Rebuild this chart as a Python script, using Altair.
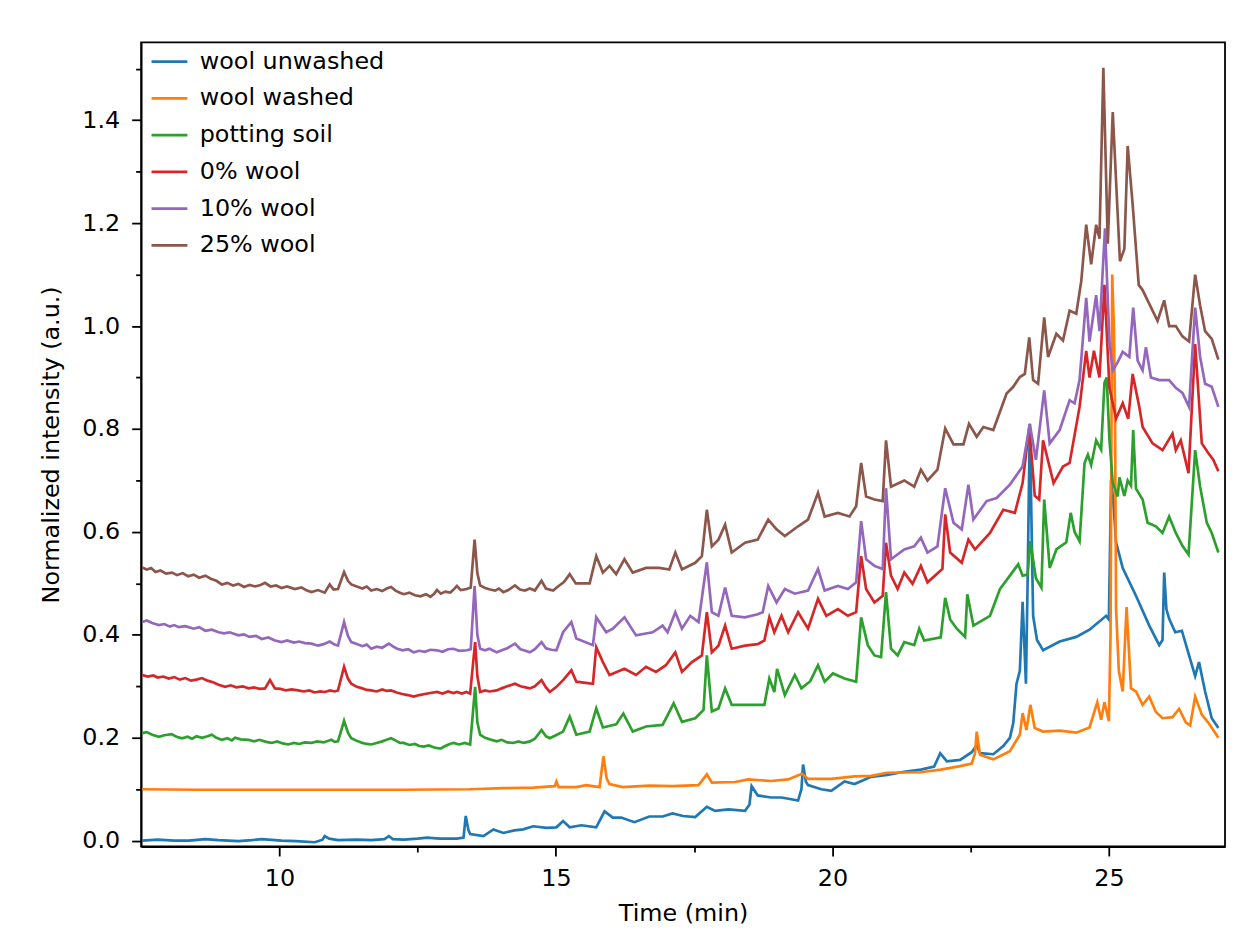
import altair as alt
import pandas as pd

series_names = ["wool unwashed", "wool washed", "potting soil", "0% wool", "10% wool", "25% wool"]
series_colors = ["#1f77b4", "#ff7f0e", "#2ca02c", "#d62728", "#9467bd", "#8c564b"]

x_tick_values = [10, 12.5, 15, 17.5, 20, 22.5, 25]
y_tick_values = [0.0, 0.1, 0.2, 0.3, 0.4, 0.5, 0.6, 0.7, 0.8, 0.9, 1.0, 1.1, 1.2, 1.3, 1.4, 1.5]

unwashed_t = [7.52, 7.8, 8.1, 8.36, 8.66, 8.9, 9.26, 9.5, 9.68, 10.04, 10.3, 10.64, 10.78, 10.82, 10.9,
              11.06, 11.4, 11.66, 11.9, 11.98, 12.05, 12.25, 12.5, 12.67, 12.9, 13.21, 13.33, 13.37, 13.42,
              13.45, 13.69, 13.87, 14.05, 14.25, 14.41, 14.59, 14.83, 15.01, 15.13, 15.25, 15.46, 15.73,
              15.88, 16.03, 16.18, 16.42, 16.69, 16.93, 17.11, 17.3, 17.52, 17.73, 17.88, 18.12, 18.42,
              18.5, 18.54, 18.65, 18.89, 19.08, 19.38, 19.44, 19.47, 19.52, 19.56, 19.8, 19.98, 20.22,
              20.4, 20.7, 20.99, 21.3, 21.6, 21.84, 21.95, 22.07, 22.31, 22.52, 22.61, 22.67, 22.91,
              23.09, 23.21, 23.27, 23.33, 23.39, 23.44, 23.5, 23.53, 23.57, 23.63, 23.7, 23.81, 24.11,
              24.41, 24.65, 24.95, 25.0, 25.04, 25.08, 25.13, 25.25, 25.49, 25.73, 25.91, 25.97, 26.0,
              26.04, 26.09, 26.2, 26.32, 26.45, 26.56, 26.63, 26.74, 26.86, 26.98]
unwashed_i = [0.0, 0.002, 0.0, 0.0, 0.003, 0.001, -0.001, 0.001, 0.003, 0.0, -0.001, -0.003, 0.002, 0.009, 0.004,
              0.001, 0.002, 0.001, 0.003, 0.009, 0.003, 0.002, 0.004, 0.006, 0.004, 0.004, 0.006, 0.048, 0.02,
              0.013, 0.009, 0.022, 0.015, 0.02, 0.022, 0.028, 0.025, 0.026, 0.038, 0.026, 0.03, 0.026,
              0.057, 0.045, 0.045, 0.036, 0.047, 0.047, 0.053, 0.048, 0.046, 0.066, 0.058, 0.061, 0.058,
              0.07, 0.106, 0.088, 0.084, 0.084, 0.078, 0.1, 0.148, 0.115, 0.108, 0.1, 0.097, 0.115,
              0.11, 0.124, 0.128, 0.134, 0.138, 0.144, 0.17, 0.154, 0.157, 0.172, 0.186, 0.17, 0.168,
              0.184, 0.2, 0.228, 0.305, 0.33, 0.464, 0.305, 0.5, 0.81, 0.437, 0.39, 0.37, 0.387,
              0.396, 0.41, 0.437, 0.43, 0.7, 0.66, 0.58, 0.53, 0.476, 0.418, 0.38, 0.39, 0.521,
              0.45, 0.431, 0.405, 0.408, 0.36, 0.32, 0.347, 0.29, 0.238, 0.219]

washed_t = [7.52, 8.5, 9.86, 11.0, 12.25, 13.45, 14.05, 14.6, 14.98, 15.01, 15.05, 15.37, 15.55, 15.79,
            15.86, 15.92, 15.97, 16.21, 16.69, 17.11, 17.58, 17.73, 17.82, 18.24, 18.48, 18.89, 19.2,
            19.45, 19.56, 19.98, 20.4, 20.7, 20.99, 21.6, 21.96, 22.31, 22.52, 22.58, 22.61, 22.67,
            22.91, 23.21, 23.39, 23.44, 23.51, 23.58, 23.66, 23.81, 24.11, 24.41, 24.65, 24.79, 24.86,
            24.92, 25.0, 25.03, 25.06, 25.09, 25.11, 25.13, 25.18, 25.25, 25.32, 25.4, 25.49, 25.61,
            25.73, 25.85, 25.97, 26.15, 26.27, 26.39, 26.47, 26.56, 26.68, 26.8, 26.98]
washed_i = [0.100, 0.099, 0.099, 0.099, 0.099, 0.100, 0.102, 0.103, 0.106, 0.115, 0.104, 0.104, 0.108, 0.104,
            0.164, 0.12, 0.11, 0.104, 0.107, 0.106, 0.108, 0.129, 0.113, 0.114, 0.119, 0.116, 0.119,
            0.13, 0.12, 0.12, 0.125, 0.126, 0.132, 0.133, 0.138, 0.145, 0.15, 0.17, 0.212, 0.167,
            0.158, 0.174, 0.206, 0.248, 0.215, 0.264, 0.219, 0.212, 0.214, 0.21, 0.22, 0.269, 0.235,
            0.269, 0.232, 0.4, 1.10, 1.0, 0.85, 0.45, 0.33, 0.29, 0.454, 0.296, 0.29, 0.264,
            0.28, 0.25, 0.238, 0.24, 0.256, 0.23, 0.224, 0.28, 0.245, 0.229, 0.2]

soil_t = [7.52, 7.6, 7.7, 7.82, 7.92, 8.05, 8.14, 8.24, 8.34, 8.42, 8.5, 8.6, 8.7, 8.78, 8.86, 8.96, 9.06,
          9.14, 9.2, 9.3, 9.44, 9.54, 9.64, 9.76, 9.86, 9.96, 10.06, 10.16, 10.26, 10.36, 10.46, 10.58, 10.68,
          10.8, 10.94, 11.0, 11.06, 11.17, 11.24, 11.3, 11.4, 11.5, 11.58, 11.66, 11.76, 11.86, 11.94, 12.02,
          12.1, 12.18, 12.25, 12.35, 12.45, 12.53, 12.61, 12.7, 12.8, 12.91, 13.0, 13.08, 13.15, 13.25, 13.35,
          13.45, 13.54, 13.58, 13.63, 13.72, 13.8, 13.93, 14.02, 14.12, 14.23, 14.32, 14.42, 14.53, 14.62,
          14.74, 14.82, 14.89, 15.0, 15.13,
          15.25, 15.37, 15.61, 15.73, 15.85, 16.09, 16.22, 16.39, 16.63, 16.93, 17.13, 17.28, 17.52,
          17.67, 17.73, 17.82, 17.94, 18.06, 18.18, 18.42, 18.77, 18.86, 18.95, 19.0, 19.14, 19.32, 19.44,
          19.6, 19.74, 19.86, 20.01, 20.22, 20.43, 20.52, 20.64, 20.76, 20.88, 20.97, 21.06, 21.18, 21.3,
          21.48, 21.57, 21.66, 21.96, 22.04, 22.13, 22.25, 22.4, 22.44, 22.55, 22.85, 23.03, 23.21, 23.36,
          23.44, 23.53, 23.58, 23.68, 23.78, 23.83, 23.93, 24.05, 24.23, 24.31, 24.38, 24.47, 24.56, 24.62,
          24.68, 24.77, 24.86, 24.92, 24.96, 25.01, 25.07, 25.16, 25.19, 25.28, 25.34, 25.4, 25.44, 25.49,
          25.61, 25.7, 25.85, 25.97, 26.09, 26.21, 26.33, 26.44, 26.56, 26.65, 26.77, 26.86, 26.98]
soil_i = [0.209, 0.211, 0.206, 0.202, 0.205, 0.207, 0.202, 0.199, 0.202, 0.198, 0.203, 0.2, 0.203, 0.206, 0.2, 0.196, 0.199,
          0.195, 0.2, 0.197, 0.196, 0.193, 0.196, 0.192, 0.19, 0.193, 0.189, 0.187, 0.19, 0.188, 0.191, 0.19, 0.193,
          0.191, 0.196, 0.192, 0.193, 0.233, 0.21, 0.199, 0.194, 0.19, 0.188, 0.187, 0.19, 0.193, 0.196, 0.199,
          0.195, 0.19, 0.19, 0.186, 0.188, 0.184, 0.183, 0.185, 0.181, 0.179, 0.184, 0.188, 0.19, 0.187, 0.19,
          0.187, 0.299, 0.23, 0.206, 0.2, 0.197, 0.193, 0.196, 0.191, 0.19, 0.193, 0.19, 0.193, 0.198,
          0.215, 0.203, 0.199, 0.205, 0.212,
          0.241, 0.206, 0.212, 0.257, 0.22, 0.226, 0.247, 0.212, 0.222, 0.225, 0.267, 0.231, 0.238,
          0.254, 0.36, 0.251, 0.257, 0.296, 0.264, 0.264, 0.264, 0.315, 0.289, 0.334, 0.283, 0.322, 0.296,
          0.31, 0.341, 0.309, 0.325, 0.315, 0.309, 0.434, 0.38, 0.36, 0.357, 0.483, 0.373, 0.36, 0.386,
          0.38, 0.412, 0.389, 0.395, 0.472, 0.43, 0.412, 0.396, 0.479, 0.418, 0.437, 0.489, 0.515, 0.537,
          0.515, 0.517, 0.582, 0.51, 0.492, 0.663, 0.53, 0.566, 0.58, 0.637, 0.6, 0.582, 0.734, 0.75,
          0.73, 0.778, 0.76, 0.89, 0.9, 0.78, 0.695, 0.669, 0.706, 0.67, 0.7, 0.69, 0.798, 0.684,
          0.663, 0.618, 0.611, 0.598, 0.63, 0.598, 0.573, 0.556, 0.759, 0.688, 0.618, 0.598, 0.56]

wool0_t = [7.52, 7.62, 7.72, 7.8, 7.9, 8.0, 8.1, 8.2, 8.3, 8.4, 8.5, 8.6, 8.7, 8.8, 8.9, 9.02, 9.12, 9.22,
           9.34, 9.44, 9.54, 9.64, 9.74, 9.83, 9.92, 10.02, 10.12, 10.22, 10.34, 10.44, 10.54, 10.64, 10.74,
           10.82, 10.92, 11.0, 11.06, 11.17, 11.24, 11.3, 11.4, 11.5, 11.58, 11.66, 11.76, 11.86, 11.94, 12.02,
           12.12, 12.22, 12.32, 12.43, 12.53, 12.63, 12.73, 12.85, 12.95, 13.05, 13.15, 13.21, 13.3, 13.38,
           13.45, 13.54, 13.58, 13.63, 13.72, 13.8, 13.93, 14.02, 14.12, 14.26, 14.36, 14.45, 14.53, 14.62,
           14.74, 14.82, 14.89, 15.0, 15.13, 15.28,
           15.37, 15.67, 15.73, 15.85, 15.97, 16.24, 16.45, 16.63, 16.81, 16.99, 17.16, 17.28, 17.46, 17.64,
           17.73, 17.82, 17.94, 18.06, 18.18, 18.42, 18.65, 18.77, 18.86, 18.95, 19.08, 19.2, 19.38, 19.56,
           19.74, 19.89, 20.1, 20.28, 20.43, 20.52, 20.61, 20.76, 20.91, 20.97, 21.06, 21.18, 21.3, 21.45,
           21.6, 21.72, 21.99, 22.04, 22.13, 22.34, 22.46, 22.58, 22.85, 23.09, 23.3, 23.44, 23.56, 23.66,
           23.74, 23.81, 24.0, 24.17, 24.29, 24.47, 24.59, 24.65, 24.73, 24.83, 24.92, 25.01, 25.13, 25.25,
           25.35, 25.43, 25.55, 25.61, 25.79, 25.97, 26.15, 26.21, 26.3, 26.44, 26.56, 26.68, 26.8, 26.89,
           26.98]
wool0_i = [0.322, 0.319, 0.321, 0.317, 0.319, 0.315, 0.318, 0.313, 0.316, 0.311, 0.313, 0.316, 0.311, 0.308, 0.303, 0.299, 0.302, 0.298,
           0.3, 0.296, 0.298, 0.295, 0.296, 0.312, 0.296, 0.295, 0.292, 0.294, 0.292, 0.29, 0.292, 0.288, 0.29,
           0.289, 0.292, 0.29, 0.292, 0.338, 0.315, 0.305, 0.299, 0.296, 0.293, 0.292, 0.29, 0.294, 0.291, 0.292,
           0.288, 0.285, 0.283, 0.28, 0.283, 0.285, 0.287, 0.289, 0.286, 0.29, 0.287, 0.289, 0.286, 0.289,
           0.286, 0.386, 0.32, 0.289, 0.292, 0.29, 0.292, 0.296, 0.3, 0.305, 0.3, 0.298, 0.296, 0.3,
           0.312, 0.298, 0.289, 0.298, 0.312, 0.331,
           0.309, 0.305, 0.376, 0.347, 0.322, 0.334, 0.322, 0.338, 0.328, 0.341, 0.366, 0.328, 0.347, 0.36,
           0.444, 0.366, 0.379, 0.418, 0.373, 0.379, 0.382, 0.389, 0.434, 0.405, 0.437, 0.405, 0.444, 0.412,
           0.47, 0.437, 0.45, 0.437, 0.444, 0.553, 0.489, 0.463, 0.476, 0.579, 0.515, 0.489, 0.521, 0.499,
           0.534, 0.502, 0.528, 0.634, 0.56, 0.54, 0.585, 0.566, 0.598, 0.643, 0.637, 0.695, 0.804, 0.67,
           0.663, 0.778, 0.695, 0.727, 0.734, 0.843, 0.952, 0.9, 0.952, 0.9, 1.08, 0.88, 0.82, 0.85,
           0.82, 0.907, 0.843, 0.804, 0.772, 0.759, 0.791, 0.759, 0.778, 0.714, 0.965, 0.772, 0.753, 0.74,
           0.718]

wool10_t = [7.52, 7.6, 7.7, 7.82, 7.92, 8.02, 8.1, 8.18, 8.3, 8.45, 8.55, 8.66, 8.78, 8.9, 9.0, 9.1, 9.26,
            9.36, 9.46, 9.58, 9.68, 9.8, 9.92, 10.04, 10.14, 10.26, 10.36, 10.46, 10.58, 10.7, 10.8, 10.91,
            11.0, 11.06, 11.17, 11.24, 11.3, 11.4, 11.5, 11.58, 11.66, 11.76, 11.86, 11.98, 12.06, 12.13,
            12.23, 12.33, 12.43, 12.53, 12.63, 12.73, 12.85, 12.95, 13.05, 13.15, 13.25, 13.39, 13.46, 13.53,
            13.58, 13.63, 13.72, 13.8, 13.93, 14.02, 14.12, 14.26, 14.36, 14.45, 14.53, 14.62, 14.74, 14.82,
            14.92, 15.01, 15.13,
            15.28, 15.37, 15.67, 15.73, 15.91, 16.03, 16.24, 16.45, 16.75, 16.93, 17.02, 17.16, 17.28, 17.43,
            17.58, 17.73, 17.82, 17.94, 18.06, 18.18, 18.42, 18.65, 18.74, 18.84, 18.99, 19.14, 19.32, 19.56,
            19.74, 19.86, 20.1, 20.28, 20.43, 20.52, 20.61, 20.76, 20.91, 20.97, 21.06, 21.3, 21.48, 21.6,
            21.72, 21.9, 22.04, 22.19, 22.34, 22.46, 22.55, 22.79, 22.97, 23.21, 23.44, 23.57, 23.68, 23.83,
            23.93, 24.11, 24.29, 24.38, 24.47, 24.59, 24.65, 24.77, 24.83, 24.93, 25.01, 25.07, 25.16, 25.25,
            25.37, 25.44, 25.52, 25.61, 25.67, 25.76, 25.91, 26.09, 26.21, 26.33, 26.45, 26.56, 26.65, 26.74,
            26.86, 26.98]
wool10_i = [0.425, 0.428, 0.423, 0.419, 0.421, 0.416, 0.419, 0.415, 0.417, 0.412, 0.415, 0.408, 0.41, 0.405, 0.403, 0.405, 0.399,
            0.401, 0.396, 0.398, 0.392, 0.395, 0.389, 0.386, 0.389, 0.385, 0.387, 0.384, 0.383, 0.379, 0.382, 0.387,
            0.381, 0.379, 0.425, 0.398, 0.386, 0.382, 0.378, 0.381, 0.373, 0.377, 0.375, 0.383, 0.377, 0.373,
            0.37, 0.372, 0.366, 0.369, 0.367, 0.371, 0.37, 0.367, 0.372, 0.373, 0.369, 0.37, 0.372, 0.495,
            0.4, 0.373, 0.37, 0.373, 0.366, 0.37, 0.374, 0.383, 0.372, 0.369, 0.366, 0.372, 0.386, 0.374,
            0.371, 0.37, 0.405,
            0.425, 0.393, 0.38, 0.434, 0.405, 0.412, 0.434, 0.399, 0.405, 0.418, 0.405, 0.444, 0.412, 0.437,
            0.425, 0.541, 0.444, 0.437, 0.492, 0.437, 0.434, 0.44, 0.444, 0.495, 0.463, 0.489, 0.48, 0.486,
            0.528, 0.486, 0.495, 0.489, 0.502, 0.621, 0.547, 0.534, 0.528, 0.685, 0.547, 0.566, 0.572, 0.589,
            0.56, 0.572, 0.685, 0.618, 0.605, 0.692, 0.624, 0.66, 0.666, 0.692, 0.727, 0.81, 0.74, 0.875,
            0.772, 0.798, 0.856, 0.85, 0.895, 1.055, 0.97, 1.06, 0.99, 1.19, 0.97, 0.914, 0.93, 0.95,
            0.94, 1.036, 0.933, 0.914, 0.959, 0.9, 0.895, 0.895, 0.88, 0.87, 0.843, 1.036, 0.94, 0.888,
            0.882, 0.843]

wool25_t = [7.52, 7.6, 7.68, 7.76, 7.85, 7.95, 8.06, 8.15, 8.25, 8.35, 8.45, 8.55, 8.66, 8.76, 8.86, 8.96,
            9.06, 9.16, 9.26, 9.36, 9.46, 9.56, 9.66, 9.74, 9.84, 9.94, 10.04, 10.14, 10.28, 10.4, 10.5, 10.58,
            10.7, 10.82, 10.91, 10.98, 11.06, 11.17, 11.24, 11.3, 11.4, 11.5, 11.58, 11.66, 11.76, 11.86, 11.94,
            12.02, 12.1, 12.18, 12.25, 12.35, 12.45, 12.55, 12.65, 12.73, 12.8, 12.85, 12.92, 13.0, 13.09,
            13.15, 13.21, 13.28, 13.39, 13.46, 13.53, 13.58, 13.63, 13.72, 13.81, 13.9, 13.97, 14.05, 14.14,
            14.26, 14.35, 14.44, 14.53, 14.62, 14.74, 14.82, 14.95, 15.05, 15.15,
            15.25, 15.36, 15.61, 15.73, 15.85, 15.97, 16.09, 16.24, 16.39, 16.63,
            16.87, 17.05, 17.16, 17.28, 17.52, 17.64, 17.73, 17.82, 17.94, 18.06, 18.18, 18.42, 18.65, 18.84,
            18.99, 19.14, 19.38, 19.56, 19.74, 19.86, 20.1, 20.31, 20.43, 20.52, 20.61, 20.76, 20.91, 20.97,
            21.06, 21.3, 21.48, 21.6, 21.72, 21.9, 22.04, 22.19, 22.37, 22.47, 22.61, 22.73, 22.91, 23.15,
            23.27, 23.39, 23.48, 23.56, 23.63, 23.72, 23.83, 23.9, 24.05, 24.17, 24.29, 24.41, 24.5, 24.59,
            24.68, 24.77, 24.83, 24.9, 24.98, 25.07, 25.2, 25.28, 25.34, 25.43, 25.54, 25.61, 25.7, 25.79,
            25.88, 26.0, 26.09, 26.21, 26.33, 26.45, 26.56, 26.65, 26.74, 26.86, 26.98]
wool25_i = [0.531, 0.527, 0.53, 0.522, 0.525, 0.519, 0.521, 0.516, 0.52, 0.514, 0.517, 0.511, 0.515, 0.509, 0.505, 0.498,
            0.501, 0.496, 0.499, 0.493, 0.497, 0.494, 0.497, 0.501, 0.494, 0.496, 0.491, 0.494, 0.489, 0.492, 0.486, 0.483,
            0.487, 0.482, 0.498, 0.488, 0.489, 0.522, 0.505, 0.498, 0.494, 0.49, 0.494, 0.486, 0.489, 0.485, 0.49,
            0.493, 0.486, 0.482, 0.479, 0.482, 0.477, 0.475, 0.479, 0.474, 0.48, 0.487, 0.48, 0.484, 0.482,
            0.488, 0.495, 0.487, 0.489, 0.492, 0.585, 0.52, 0.496, 0.491, 0.488, 0.486, 0.49, 0.483, 0.487,
            0.496, 0.488, 0.486, 0.49, 0.486, 0.505, 0.49, 0.486, 0.495, 0.503,
            0.518, 0.5, 0.5, 0.553, 0.521, 0.534, 0.518, 0.547, 0.521, 0.53,
            0.53, 0.527, 0.56, 0.527, 0.54, 0.553, 0.643, 0.572, 0.585, 0.614, 0.56, 0.579, 0.585, 0.624,
            0.605, 0.592, 0.611, 0.624, 0.676, 0.63, 0.637, 0.63, 0.65, 0.734, 0.669, 0.663, 0.66, 0.778,
            0.688, 0.7, 0.688, 0.721, 0.7, 0.721, 0.801, 0.77, 0.77, 0.81, 0.785, 0.804, 0.798, 0.869,
            0.882, 0.901, 0.907, 0.978, 0.895, 0.888, 1.017, 0.94, 0.985, 0.972, 1.03, 1.024, 1.087, 1.197,
            1.12, 1.197, 1.17, 1.502, 1.16, 1.416, 1.126, 1.15, 1.35, 1.236, 1.08, 1.07, 1.05, 1.03,
            1.01, 1.05, 1.0, 1.0, 0.98, 0.97, 1.10, 1.04, 0.99, 0.975, 0.935]

all_t = [unwashed_t, washed_t, soil_t, wool0_t, wool10_t, wool25_t]
all_i = [unwashed_i, washed_i, soil_i, wool0_i, wool10_i, wool25_i]

rows = []
for name, ts, ys in zip(series_names, all_t, all_i):
    for t, v in zip(ts, ys):
        rows.append({"series": name, "time": t, "intensity": v})
df = pd.DataFrame(rows)

x_axis = alt.Axis(
    values=x_tick_values,
    title="Time (min)",
    labelExpr="datum.value % 5 == 0 ? format(datum.value, 'd') : ''",
    tickSize={"condition": {"test": "datum.value % 5 == 0", "value": 9.5}, "value": 5.5},
    labelPadding=11,
    labelOverlap=False,
    labelFlush=False,
    titleY=67,
    titleBaseline="middle",
)
y_axis = alt.Axis(
    values=y_tick_values,
    title="Normalized intensity (a.u.)",
    labelExpr="round(datum.value * 10) % 2 == 0 ? format(datum.value, '.1f') : ''",
    tickSize={"condition": {"test": "round(datum.value * 10) % 2 == 0", "value": 9.5}, "value": 5.5},
    labelPadding=12,
    labelOverlap=False,
    labelFlush=False,
    titleX=-90,
    titleY=404.75,
    titleAngle=270,
    titleAlign="center",
    titleBaseline="middle",
)

base = alt.Chart(df).mark_line(strokeWidth=2.7, clip=True).encode(
    x=alt.X("time:Q", scale=alt.Scale(domain=[7.5, 27.1], nice=False, zero=False), axis=x_axis),
    y=alt.Y("intensity:Q", scale=alt.Scale(domain=[-0.0113, 1.5515], nice=False, zero=False), axis=y_axis),
    color=alt.Color(
        "series:N",
        scale=alt.Scale(domain=series_names, range=series_colors),
        legend=alt.Legend(
            title=None,
            orient="none",
            legendX=9,
            legendY=0,
            symbolType="stroke",
            symbolSize=1300,
            symbolStrokeWidth=2.8,
            labelFontSize=24,
            labelFont="DejaVu Sans",
            labelColor="black",
            labelLimit=0,
            labelOffset=11,
            rowPadding=5,
            padding=0,
        ),
    ),
)

layers = [base.transform_filter(alt.datum.series == s) for s in series_names]

chart = (
    alt.layer(*layers)
    .properties(
        width=1091,
        height=809.5,
        autosize=alt.AutoSizeParams(type="none"),
        padding={"left": 134, "top": 31.5, "right": 2, "bottom": 77},
    )
    .configure_view(stroke="black", strokeWidth=1.8)
    .configure_axis(
        grid=False,
        domainColor="black",
        domainWidth=1.8,
        tickColor="black",
        tickWidth=1.8,
        labelFont="DejaVu Sans",
        labelFontSize=24,
        labelColor="black",
        titleFont="DejaVu Sans",
        titleFontSize=24,
        titleFontWeight="normal",
        titleColor="black",
    )
)

chart.save("out.html", embed_options={"renderer": "svg", "actions": False})
